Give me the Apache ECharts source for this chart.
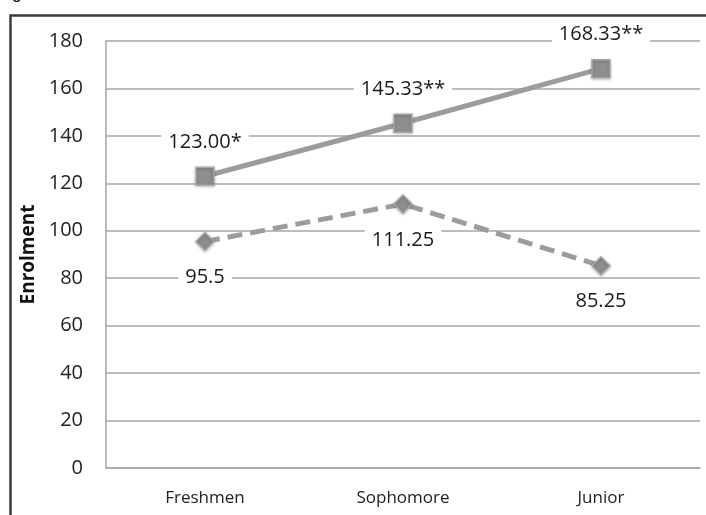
<!DOCTYPE html>
<html>
<head>
<meta charset="utf-8">
<script src="https://cdn.jsdelivr.net/npm/echarts@6/dist/echarts.min.js"></script>
<style>
html,body{margin:0;padding:0;background:#fff;}
#c{width:706px;height:515px;}
</style>
</head>
<body>
<div id="c"></div>
<script>
var categories = ['Freshmen', 'Sophomore', 'Junior'];
var upperValues = [123.00, 145.33, 168.33];
var upperLabels = ['123.00*', '145.33**', '168.33**'];
var lowerValues = [95.5, 111.25, 85.25];
var lowerLabels = ['95.5', '111.25', '85.25'];
var yTicks = [0, 20, 40, 60, 80, 100, 120, 140, 160, 180];

var FONT = 'Open Sans';
var chart = echarts.init(document.getElementById('c'), null, {renderer: 'canvas'});

function mkData(vals, labels) {
  return vals.map(function (v, i) { return {value: v, labelText: labels[i]}; });
}

chart.setOption({
  backgroundColor: '#fff',
  animation: false,
  graphic: [
    {type: 'rect', left: 8, top: 13, shape: {width: 720, height: 540},
     style: {fill: 'none', stroke: '#3c3c3c', lineWidth: 2.5}, z: 10},
    {type: 'text', left: -1, top: -13,
     style: {text: 'Figure 1', font: 'bold 15px "Liberation Sans"', fill: '#222'}}
  ],
  grid: {left: 106, right: 6, top: 41, bottom: 47},
  xAxis: {
    type: 'category',
    data: categories,
    boundaryGap: true,
    axisLine: {show: true, lineStyle: {color: '#a6a6a6', width: 1.5}},
    axisTick: {show: false},
    axisLabel: {color: '#222', fontFamily: FONT, fontSize: 17, margin: 22}
  },
  yAxis: {
    type: 'value',
    min: yTicks[0],
    max: yTicks[yTicks.length - 1],
    interval: yTicks[1] - yTicks[0],
    name: 'Enrolment',
    nameLocation: 'middle',
    nameGap: 66,
    nameRotate: 90,
    nameTextStyle: {color: '#111', fontFamily: FONT, fontSize: 19, fontWeight: 'bold'},
    axisLine: {show: true, lineStyle: {color: '#a6a6a6', width: 1.5}},
    axisTick: {show: false},
    splitLine: {show: true, lineStyle: {color: '#a6a6a6', width: 1.5}},
    axisLabel: {color: '#222', fontFamily: FONT, fontSize: 20, margin: 23}
  },
  series: [
    {
      type: 'line',
      data: mkData(upperValues, upperLabels),
      symbol: 'rect',
      symbolSize: 18,
      lineStyle: {color: '#9c9c9c', width: 5},
      itemStyle: {color: '#8e8e8e', borderColor: '#a8a8a8', borderWidth: 1.5,
                  shadowColor: 'rgba(0,0,0,0.25)', shadowBlur: 3, shadowOffsetY: 1},
      label: {
        show: true, position: 'inside', offset: [0, -34],
        formatter: function (p) { return p.data.labelText; },
        color: '#1a1a1a', fontFamily: FONT, fontSize: 20,
        backgroundColor: '#fff', padding: [0, 7]
      },
      z: 3
    },
    {
      type: 'line',
      data: mkData(lowerValues, lowerLabels),
      symbol: 'diamond',
      symbolSize: 18,
      lineStyle: {color: '#9c9c9c', width: 5, type: [15, 8]},
      itemStyle: {color: '#8e8e8e', borderColor: '#a8a8a8', borderWidth: 1.5,
                  shadowColor: 'rgba(0,0,0,0.25)', shadowBlur: 3, shadowOffsetY: 1},
      label: {
        show: true, position: 'inside', offset: [0, 36],
        formatter: function (p) { return p.data.labelText; },
        color: '#1a1a1a', fontFamily: FONT, fontSize: 20,
        backgroundColor: '#fff', padding: [0, 7]
      },
      z: 3
    }
  ]
});
</script>
</body>
</html>
